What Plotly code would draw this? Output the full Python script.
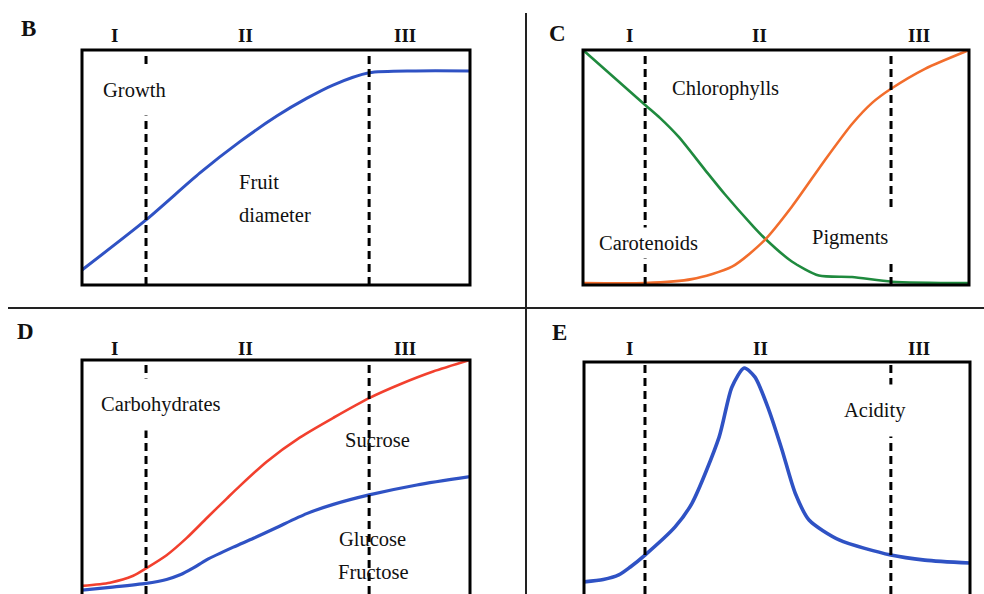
import plotly.graph_objects as go

W, H = 984, 594

# ---------------- data ----------------
# Panel B: fruit diameter (growth)
b_x = [0.0, 0.165, 0.304, 0.407, 0.503, 0.58, 0.647, 0.74, 0.86, 1.0]
b_y = [0.064, 0.277, 0.477, 0.61, 0.72, 0.795, 0.851, 0.903, 0.911, 0.911]
b_bounds = [0.165, 0.740]

# Panel C: chlorophylls (green) and pigments (orange)
c_chl_x = [0.0, 0.161, 0.2, 0.248, 0.316, 0.368, 0.438, 0.47, 0.541, 0.611, 0.697, 0.8, 1.0]
c_chl_y = [1.0, 0.766, 0.71, 0.63, 0.49, 0.385, 0.255, 0.2, 0.1, 0.04, 0.034, 0.014, 0.008]
c_pig_x = [0.0, 0.161, 0.282, 0.386, 0.47, 0.541, 0.627, 0.697, 0.749, 0.798, 0.886, 1.0]
c_pig_y = [0.008, 0.008, 0.025, 0.078, 0.19, 0.333, 0.532, 0.685, 0.775, 0.835, 0.92, 1.0]
c_bounds = [0.161, 0.798]

# Panel D: sucrose (red) and glucose/fructose (blue)
d_suc_x = [0.0, 0.072, 0.132, 0.165, 0.218, 0.27, 0.321, 0.373, 0.407, 0.476, 0.562,
           0.648, 0.74, 0.82, 0.905, 1.0]
d_suc_y = [0.022, 0.036, 0.066, 0.098, 0.155, 0.23, 0.315, 0.40, 0.455, 0.56, 0.665,
           0.75, 0.835, 0.895, 0.95, 1.0]
d_glu_x = [0.0, 0.072, 0.165, 0.218, 0.253, 0.287, 0.321, 0.39, 0.442, 0.502, 0.579,
           0.648, 0.74, 0.863, 1.0]
d_glu_y = [0.004, 0.016, 0.033, 0.05, 0.07, 0.1, 0.135, 0.19, 0.228, 0.275, 0.335,
           0.375, 0.416, 0.459, 0.495]
d_bounds = [0.165, 0.740]

# Panel E: acidity
e_x = [0.0, 0.05, 0.09, 0.12, 0.158, 0.236, 0.28, 0.35, 0.383, 0.415, 0.443, 0.479, 0.513,
       0.547, 0.583, 0.661, 0.795, 0.883, 1.0]
e_y = [0.04, 0.05, 0.07, 0.105, 0.157, 0.28, 0.384, 0.672, 0.89, 0.974, 0.934, 0.79, 0.616,
       0.428, 0.31, 0.223, 0.157, 0.135, 0.122]
e_bounds = [0.158, 0.795]

phase_labels = ["I", "II", "III"]
panel_letters = ["B", "C", "D", "E"]

# ---------------- styling ----------------
BLUE = "#2f52c4"
RED = "#f2402e"
ORANGE = "#f26d2c"
GREEN = "#1f8a3e"
FONT = "Liberation Serif"


def px(x):
    return x / W


def py(y):
    return 1 - y / H


fig = go.Figure()

# axis domains (pixel boxes)
boxes = {
    1: (82, 470, 50, 285),   # B
    2: (583, 969, 50, 285),  # C
    3: (82, 470, 360, 594),  # D
    4: (584, 970, 362, 594), # E
}
yranges = {1: [0, 1], 2: [0, 1], 3: [-3 / 231, 1], 4: [-3 / 229, 1]}

layout_axes = {}
for i, (x0, x1, y0, y1) in boxes.items():
    sfx = "" if i == 1 else str(i)
    layout_axes["xaxis" + sfx] = dict(domain=[px(x0), px(x1)], range=[0, 1],
                                      visible=False, anchor="y" + sfx)
    layout_axes["yaxis" + sfx] = dict(domain=[py(y1), py(y0)], range=yranges[i],
                                      visible=False, anchor="x" + sfx)


def add_line(x, y, ax, color, width):
    sfx = "" if ax == 1 else str(ax)
    fig.add_trace(go.Scatter(x=x, y=y, mode="lines", xaxis="x" + sfx, yaxis="y" + sfx,
                             line=dict(color=color, width=width, shape="spline", smoothing=0.7),
                             hoverinfo="skip", showlegend=False))


add_line(b_x, b_y, 1, BLUE, 3)
add_line(c_chl_x, c_chl_y, 2, GREEN, 2.6)
add_line(c_pig_x, c_pig_y, 2, ORANGE, 2.6)
add_line(d_suc_x, d_suc_y, 3, RED, 2.6)
add_line(d_glu_x, d_glu_y, 3, BLUE, 3.2)
add_line(e_x, e_y, 4, BLUE, 3.6)

shapes = []
bounds = {1: b_bounds, 2: c_bounds, 3: d_bounds, 4: e_bounds}
for i in boxes:
    sfx = "" if i == 1 else str(i)
    for bx in bounds[i]:
        shapes.append(dict(type="line", xref="x" + sfx, yref="y" + sfx + " domain",
                           x0=bx, x1=bx, y0=0, y1=1, layer="above",
                           line=dict(color="black", width=3, dash="8px,5px")))
    shapes.append(dict(type="rect", xref="x" + sfx + " domain", yref="y" + sfx + " domain",
                       x0=0, x1=1, y0=(0 if i <= 2 else -0.2), y1=1, layer="above",
                       line=dict(color="black", width=3)))

# separators
shapes.append(dict(type="line", xref="paper", yref="paper", x0=px(8), x1=px(984),
                   y0=py(308), y1=py(308), line=dict(color="#222", width=2)))
shapes.append(dict(type="line", xref="paper", yref="paper", x0=px(526), x1=px(526),
                   y0=py(13), y1=py(594), line=dict(color="#222", width=2)))

annotations = []


def txt(text, x, y, size=20.5, bold=False, bg=False, pad=1, xanchor="center"):
    annotations.append(dict(
        text=("<b>%s</b>" % text) if bold else text,
        x=px(x), y=py(y), xref="paper", yref="paper", xanchor=xanchor, yanchor="middle",
        showarrow=False, font=dict(family=FONT, size=size, color="#111"),
        bgcolor="white" if bg else None, borderpad=pad))


# panel letters
for letter, (lx, ly) in zip(panel_letters, [(28, 28), (557, 34), (25, 331), (559, 332)]):
    txt(letter, lx, ly, size=23, bold=True)

# phase labels
for xs, yl in [((114, 245, 405), 36), ((629, 759, 919), 36),
               ((114, 245, 405), 348), ((629, 760, 919), 348)]:
    for lab, lx in zip(phase_labels, xs):
        txt(lab, lx, yl, size=19, bold=True)

txt("Growth", 134, 90, bg=True, pad=14)
txt("Fruit", 237, 182, xanchor="left")
txt("diameter", 237, 215, xanchor="left")
txt("Chlorophylls", 659, 88, bg=True, pad=12, xanchor="left")
txt("Carotenoids", 648, 243, bg=True, pad=4)
txt("Pigments", 850, 237, bg=True, pad=14)
txt("Carbohydrates", 161, 405, bg=True, pad=14)
txt("Sucrose", 377, 440)
txt("Glucose", 372, 539)
txt("Fructose", 373, 572)
txt("Acidity", 875, 410, bg=True, pad=14)

fig.update_layout(width=W, height=H, margin=dict(l=0, r=0, t=0, b=0),
                  paper_bgcolor="white", plot_bgcolor="rgba(0,0,0,0)",
                  shapes=shapes, annotations=annotations, showlegend=False,
                  **layout_axes)

fig.write_html("out.html", config={"displayModeBar": False},
               post_script="document.body.style.margin='0';document.body.style.overflow='hidden';")
